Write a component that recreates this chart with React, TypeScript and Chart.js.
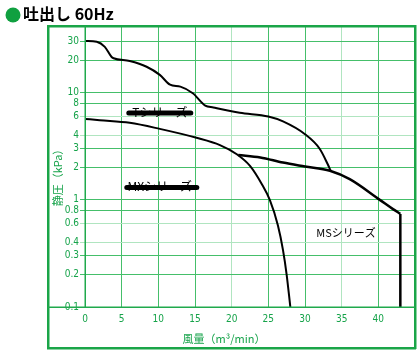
import React, { useEffect, useRef } from "react";
import { Chart, registerables } from "chart.js";

Chart.register(...registerables);

const xTickValues = [0, 5, 10, 15, 20, 25, 30, 35, 40];
const yTickValues = [0.1, 0.2, 0.3, 0.4, 0.6, 0.8, 1, 2, 3, 4, 6, 8, 10, 20, 30];
const lightX = [20, 35];
const lightY = [0.4, 0.6, 4, 6];

const tSeriesX = [0, 1.6, 2.7, 3.6, 3.9, 6.1, 8.4, 10.2, 11.6, 13.0, 14.7, 16.4, 17.5, 21.1, 25.0, 27.0, 30.0, 32.0, 33.1, 33.5];
const tSeriesY = [30.5, 29.9, 26.8, 21.7, 21.0, 19.8, 17.5, 14.7, 11.9, 11.4, 9.9, 7.6, 7.3, 6.5, 6.0, 5.4, 4.1, 3.0, 2.15, 1.87];

const mxSeriesX = [0, 2.0, 6.1, 10.2, 15.2, 18.4, 20.7, 22.5, 24.1, 25.2, 26.3, 27.0, 27.5, 28.0];
const mxSeriesY = [5.7, 5.54, 5.24, 4.6, 3.8, 3.25, 2.67, 2.08, 1.41, 1.0, 0.58, 0.34, 0.2, 0.1];

const msSeriesX = [20.9, 23.9, 27.0, 30.0, 33.4, 36.1, 40.2, 42.0, 43.0];
const msSeriesY = [2.63, 2.49, 2.23, 2.05, 1.87, 1.56, 1.0, 0.82, 0.74];
const msDropX = [43.0, 43.0];
const msDropY = [0.74, 0.1];

const titleText = "吐出し 60Hz";
const yTitle = "静圧（kPa）";
const xTitle = "風量（m³/min）";
const tLabel = "Tシリーズ";
const mxLabel = "MXシリーズ";
const msLabel = "MSシリーズ";

const GREEN = "#16a34a";
const FRAME = "#1aa548";
const GRID = "#45bf6a";
const GRID_LIGHT = "#b0e5c0";
const TICK_FONT = "'Liberation Sans Narrow', 'DejaVu Sans Condensed', 'Noto Sans', sans-serif";
const JP_FONT = "'Noto Sans CJK JP', 'Noto Sans', sans-serif";

const toPts = (xs: number[], ys: number[]) => xs.map((x, i) => ({ x, y: ys[i] }));

const decorPlugin = {
  id: "decor",
  beforeDraw(chart: any) {
    const ctx = chart.ctx;
    ctx.save();
    ctx.fillStyle = "#ffffff";
    ctx.fillRect(0, 0, chart.width, chart.height);
    ctx.restore();
  },
  afterDraw(chart: any) {
    const ctx = chart.ctx;
    const area = chart.chartArea;
    const xs = chart.scales.x;
    const ys = chart.scales.y;
    ctx.save();
    const L = 48, T = area.top, R = area.right, B = 348;
    ctx.fillStyle = FRAME;
    ctx.fillRect(L - 1, T - 1, R - L + 2, 2.5);
    ctx.fillRect(L - 1, B - 1, R - L + 2, 2.5);
    ctx.fillRect(L - 1, T - 1, 2.5, B - T + 2);
    ctx.fillRect(R - 1, T - 1, 2.5, B - T + 2);
    ctx.fillStyle = "#20a94d";
    ctx.fillRect(L, area.bottom - 0.5, R - L, 1.5);
    ctx.fillRect(area.left - 0.5, T, 1.5, area.bottom - T);

    ctx.fillStyle = "#10a040";
    ctx.beginPath();
    ctx.arc(13, 15, 7.5, 0, Math.PI * 2);
    ctx.fill();
    ctx.fillStyle = "#000";
    ctx.font = `bold 16px ${JP_FONT}`;
    ctx.textBaseline = "middle";
    ctx.textAlign = "left";
    ctx.fillText(titleText, 23, 14);

    ctx.fillStyle = GREEN;
    ctx.font = `11px ${JP_FONT}`;
    ctx.textAlign = "center";
    ctx.fillText(xTitle, 224, 339);
    ctx.save();
    ctx.translate(58, 175);
    ctx.rotate(-Math.PI / 2);
    ctx.fillText(yTitle, 0, 0);
    ctx.restore();

    const struck = (text: string, cx: number, cy: number, x0: number, x1: number) => {
      ctx.fillStyle = "#000";
      ctx.font = `12px ${JP_FONT}`;
      ctx.textAlign = "center";
      ctx.fillText(text, cx, cy);
      ctx.strokeStyle = "#000";
      ctx.lineWidth = 5;
      ctx.lineCap = "round";
      ctx.beginPath();
      ctx.moveTo(x0, cy + 1);
      ctx.lineTo(x1, cy + 1);
      ctx.stroke();
    };
    const p = (x: number, y: number) => [xs.getPixelForValue(x), ys.getPixelForValue(y)];
    const [tx, ty] = p(10.2, 6.6);
    struck(tLabel, tx, ty, tx - 31, tx + 31);
    const [mx, my] = p(10.2, 1.33);
    struck(mxLabel, mx, my, mx - 33, mx + 37);

    const [sx, sy] = p(35.6, 0.49);
    ctx.fillStyle = "#000";
    ctx.font = `11px ${JP_FONT}`;
    ctx.textAlign = "center";
    ctx.fillText(msLabel, sx, sy);
    ctx.restore();
  },
};

export default function App() {
  const ref = useRef<HTMLCanvasElement | null>(null);
  useEffect(() => {
    if (!ref.current) return;
    const lineDs = (data: any[], width: number, mono: boolean) => ({
      data,
      borderColor: "#000",
      backgroundColor: "#000",
      borderWidth: width,
      pointRadius: 0,
      tension: 0,
      cubicInterpolationMode: mono ? "monotone" : "default",
      fill: false,
    });
    const chart = new Chart(ref.current, {
      type: "line",
      data: {
        datasets: [
          lineDs(toPts(tSeriesX, tSeriesY), 2, true),
          lineDs(toPts(mxSeriesX, mxSeriesY), 2, true),
          lineDs(toPts(msSeriesX, msSeriesY), 2.5, true),
          lineDs(toPts(msDropX, msDropY), 2.5, false),
        ],
      },
      options: {
        animation: false,
        responsive: false,
        maintainAspectRatio: false,
        layout: { padding: { left: 48, top: 26, right: 5, bottom: 0 } },
        plugins: { legend: { display: false }, tooltip: { enabled: false }, title: { display: false } },
        scales: {
          x: {
            type: "linear",
            min: 0,
            max: 45,
            afterBuildTicks: (s: any) => {
              s.ticks = xTickValues.map((v) => ({ value: v }));
            },
            afterFit: (s: any) => {
              s.height = 46;
            },
            border: { display: false },
            grid: {
              color: (c: any) => (lightX.includes(c.tick?.value) ? GRID_LIGHT : GRID),
              lineWidth: 1,
              drawTicks: false,
            },
            ticks: {
              color: GREEN,
              padding: 6,
              maxRotation: 0,
              font: { family: TICK_FONT, size: 10 },
              callback: (v: any) => String(v),
            },
          },
          y: {
            type: "logarithmic",
            min: 0.1,
            max: 42,
            afterBuildTicks: (s: any) => {
              s.ticks = yTickValues.map((v) => ({ value: v }));
            },
            afterFit: (s: any) => {
              s.width = 37;
            },
            border: { display: false },
            grid: {
              color: (c: any) => (lightY.includes(c.tick?.value) ? GRID_LIGHT : GRID),
              lineWidth: 1,
              drawTicks: true,
              tickLength: 5,
            },
            ticks: {
              color: GREEN,
              padding: 1,
              font: { family: TICK_FONT, size: 10 },
              callback: (v: any) => String(v),
            },
          },
        },
      },
      plugins: [decorPlugin],
    } as any);
    return () => chart.destroy();
  }, []);
  return (
    <div style={{ position: "fixed", left: 0, top: 0, width: 420, height: 353 }}>
      <canvas ref={ref} width={420} height={353} style={{ display: "block", width: 420, height: 353 }} />
    </div>
  );
}
